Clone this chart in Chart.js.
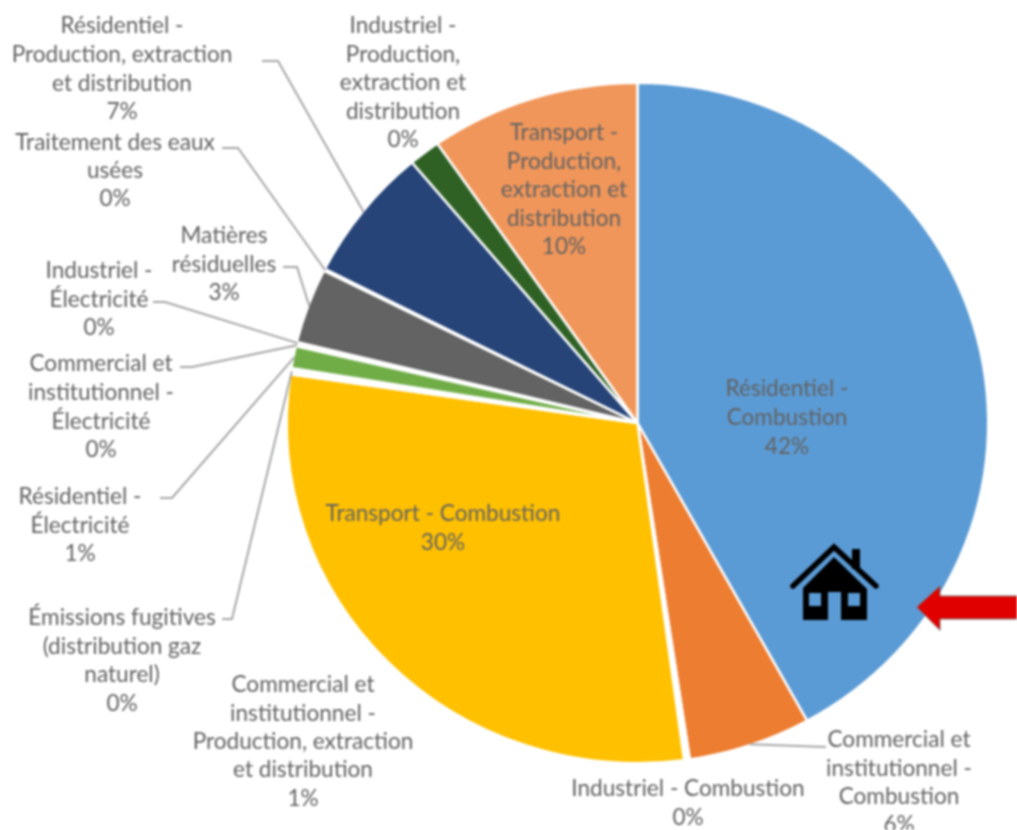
<!DOCTYPE html>
<html lang="fr">
<head>
<meta charset="utf-8">
<title>Émissions par secteur</title>
<script src="https://cdn.jsdelivr.net/npm/chart.js@4"></script>
<style>
html,body{margin:0;padding:0;background:#fff;overflow:hidden}
canvas{display:block;filter:blur(0.8px)}
</style>
</head>
<body>
<canvas id="c" width="1017" height="830"></canvas>
<script>
const categories = [
  ["Résidentiel -","Combustion"],
  ["Commercial et","institutionnel -","Combustion"],
  ["Industriel - Combustion"],
  ["Commercial et","institutionnel -","Production, extraction","et distribution"],
  ["Transport - Combustion"],
  ["Émissions fugitives","(distribution gaz","naturel)"],
  ["Résidentiel -","Électricité"],
  ["Commercial et","institutionnel -","Électricité"],
  ["Industriel -","Électricité"],
  ["Matières","résiduelles"],
  ["Traitement des eaux","usées"],
  ["Résidentiel -","Production, extraction","et distribution"],
  ["Industriel -","Production,","extraction et","distribution"],
  ["Transport -","Production,","extraction et","distribution"]
];
const sliceValues = [41.95,5.65,0.16,0.1,29.39,0.3,1.05,0.1,0.1,3.55,0.1,6.4,1.45,9.66];
const percentLabels = ["42%","6%","0%","1%","30%","0%","1%","0%","0%","3%","0%","7%","0%","10%"];
const sliceColors = ["#5b9bd5","#ed7d31","#ffffff","#ffffff","#ffc000","#ffffff","#70ad47","#ffffff","#ffffff","#636363","#ffffff","#264478","#2f6125","#f0965a"];

/* Text placement: centre x, first line y, line pitch; optional leader start and elbow */
const labelLayout = [
  {x:787,y:389,h:28.7},
  {x:899,y:740,h:28.4,lead:[[826,747]]},
  {x:688,y:789,h:28.5},
  {x:303,y:685,h:28.4},
  {x:443,y:514,h:28.5},
  {x:122,y:618,h:28.6,lead:[[222,619],[232,619]]},
  {x:80,y:497,h:28.5,lead:[[160,498],[172,498]]},
  {x:101,y:364,h:28.7,lead:[[180,367],[192,367]]},
  {x:99,y:271,h:28.5,lead:[[153,302],[165,302]]},
  {x:224,y:236,h:28.5,lead:[[283,267],[297,267]]},
  {x:115,y:143,h:28,lead:[[222,148],[238,148]]},
  {x:122,y:26,h:28.7,lead:[[262,61],[278,61]]},
  {x:403,y:26,h:28.5},
  {x:564,y:133,h:28.5}
];
const FONT = '22.6px Lato, sans-serif';
const TEXT = '#626262';
const ELLIPSE_Y = 339/349.5;

const labelsPlugin = {
  id:'pieLabels',
  beforeDatasetsDraw(chart){
    const a = chart.getDatasetMeta(0).data[0];
    const ctx = chart.ctx;
    ctx.save();
    ctx.translate(0,a.y);
    ctx.scale(1,ELLIPSE_Y);
    ctx.translate(0,-a.y);
  },
  afterDatasetsDraw(chart){
    const ctx = chart.ctx;
    ctx.restore();
    const arcs = chart.getDatasetMeta(0).data;
    ctx.save();
    ctx.strokeStyle = '#a6a6a6';
    ctx.lineWidth = 2;
    arcs.forEach((a,i)=>{
      const L = labelLayout[i];
      if(!L.lead) return;
      const mid = (a.startAngle+a.endAngle)/2;
      const r = a.outerRadius-1;
      ctx.beginPath();
      L.lead.forEach((p,k)=> k?ctx.lineTo(p[0],p[1]):ctx.moveTo(p[0],p[1]));
      ctx.lineTo(a.x+Math.cos(mid)*r, a.y+Math.sin(mid)*r*ELLIPSE_Y);
      ctx.stroke();
    });
    ctx.font = FONT;
    ctx.fillStyle = TEXT;
    ctx.textAlign = 'center';
    ctx.textBaseline = 'middle';
    categories.forEach((lines,i)=>{
      const L = labelLayout[i];
      lines.concat(percentLabels[i]).forEach((t,k)=>ctx.fillText(t,L.x,L.y+k*L.h));
    });
    /* house pictogram */
    ctx.fillStyle = '#000'; ctx.strokeStyle = '#000';
    ctx.lineWidth = 5.5; ctx.lineCap='round'; ctx.lineJoin='miter';
    ctx.beginPath(); ctx.moveTo(793,586); ctx.lineTo(834,547); ctx.lineTo(876,586); ctx.stroke();
    ctx.fillRect(852,549,8,20);
    ctx.beginPath();
    ctx.moveTo(834,557); ctx.lineTo(867,589); ctx.lineTo(867,620); ctx.lineTo(803,620); ctx.lineTo(803,588);
    ctx.closePath(); ctx.fill();
    ctx.fillStyle = sliceColors[0];
    ctx.fillRect(809,593,12,13);
    ctx.fillRect(848,593,12,13);
    ctx.fillRect(828,592,13,29);
    /* red arrow */
    ctx.beginPath();
    ctx.moveTo(917,607); ctx.lineTo(940,586); ctx.lineTo(940,596); ctx.lineTo(1018,596);
    ctx.lineTo(1018,619); ctx.lineTo(940,619); ctx.lineTo(940,630); ctx.closePath();
    ctx.fillStyle = '#e00000'; ctx.fill();
    ctx.strokeStyle = '#7a6a6a'; ctx.lineWidth = 1; ctx.stroke();
    ctx.restore();
  }
};

new Chart(document.getElementById('c'),{
  type:'pie',
  data:{
    labels:categories.map(l=>l.join(' ')),
    datasets:[{data:sliceValues,backgroundColor:sliceColors,borderColor:'#fff',borderWidth:2.5}]
  },
  options:{
    responsive:false,
    devicePixelRatio:1,
    animation:false,
    layout:{padding:{left:285.5,right:27.5,top:71,bottom:55}},
    plugins:{legend:{display:false},tooltip:{enabled:false}}
  },
  plugins:[labelsPlugin]
});
</script>
</body>
</html>
